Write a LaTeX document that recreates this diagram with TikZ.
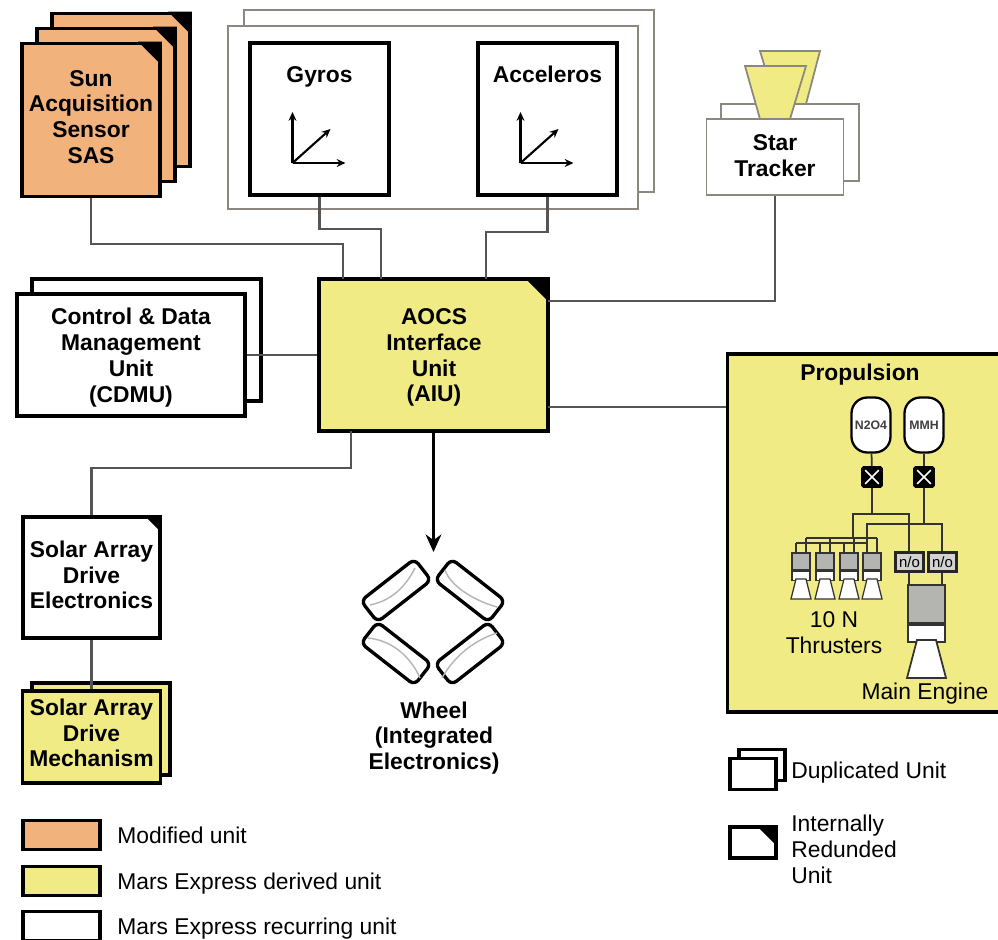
\documentclass[tikz,border=0pt]{standalone}
\usepackage{fontspec}
\setmainfont{Liberation Sans}
\usepackage{xcolor}
\usetikzlibrary{positioning, calc, arrows.meta, shapes}
\definecolor{sasorange}{HTML}{F2B27C}
\definecolor{mexyellow}{HTML}{F1EB85}
\definecolor{linegrey}{HTML}{555555}
\definecolor{framegrey}{HTML}{8C8880}
\definecolor{partgrey}{HTML}{B4B4B0}
\tikzset{
  unitbox/.style={draw=black, line width=2.2pt, fill=white, inner sep=0pt},
  thinbox/.style={unitbox, draw=framegrey, line width=1pt},
  boxtext/.style={inner sep=0pt, align=center, font=\bfseries\fontsize{13pt}{14.7pt}\selectfont},
  plainlabel/.style={inner sep=0pt, align=center, font=\fontsize{13pt}{14.7pt}\selectfont},
  legendlabel/.style={plainlabel, align=left, anchor=base west},
  wire/.style={draw=linegrey, line width=1.2pt},
  pipe/.style={draw=black!80, line width=1pt},
  axisarrow/.style={black, line width=1.2pt, -{Stealth[length=5pt,width=4.5pt]}},
  wheelbox/.style={draw=black, line width=1.9pt, fill=white, rounded corners=3.5pt,
    minimum width=1.36cm, minimum height=0.54cm, inner sep=0pt},
  wheelarc/.style={draw=partgrey, line width=0.8pt},
  tankbox/.style={draw=black, line width=1.3pt, fill=white, rounded corners=9pt, text=black!75,
    minimum width=0.78cm, minimum height=1.1cm, inner sep=0pt, font=\bfseries\fontsize{7pt}{8pt}\selectfont},
  valvebox/.style={draw=black, fill=black, rounded corners=1pt, minimum size=0.42cm, inner sep=0pt},
  nobox/.style={draw=black!85, line width=1.3pt, fill=partgrey!60, minimum width=0.56cm, minimum height=0.38cm,
    inner sep=0pt, font=\fontsize{8.5pt}{9pt}\selectfont},
  thrusterpart/.style={draw=black!80, line width=0.7pt, minimum width=0.36cm, inner sep=0pt},
  enginepart/.style={draw=black!80, line width=1pt, minimum width=0.74cm, inner sep=0pt},
}
\newcommand{\redcorner}[2][24]{\fill (#2.north east) -- ++(-#1,0) -- ++(#1,#1) -- cycle;}
\begin{document}
\begin{tikzpicture}[x=0.02cm,y=-0.02cm]
  \useasboundingbox (0,0) rectangle (998,940);

  % Sun sensor
  \foreach \dx/\nm in {30/sasc,15/sasb,0/sas} {
    \node[unitbox, fill=sasorange, minimum width=2.76cm, minimum height=3.06cm] (\nm) at (91+\dx,120-\dx) {};
    \redcorner{\nm}
  }
  \node[boxtext] (sastext) at (91,117) {Sun\\Acquisition\\Sensor\\SAS};

  % Gyros and accelerometers
  \node[thinbox, minimum width=8.2cm, minimum height=3.64cm] (imuback) at (449,101) {};
  \node[thinbox, minimum width=8.2cm, minimum height=3.66cm] (imufront) at (433,117.5) {};
  \foreach \nm/\cx/\txt in {gyros/319.5/Gyros, acceleros/547.5/Acceleros} {
    \node[unitbox, minimum width=2.78cm, minimum height=3.04cm] (\nm) at (\cx,119) {};
    \node[boxtext, anchor=base] (\nm text) at (\cx,82) {\txt};
    \coordinate (\nm o) at (\cx-27,163);
    \draw[axisarrow] (\nm o) -- ++(0,-51);
    \draw[axisarrow] (\nm o) -- ++(53,0);
    \draw[axisarrow] (\nm o) -- ++(38,-34);
  }

  % Star tracker
  \node[thinbox, minimum width=2.76cm, minimum height=1.54cm] (trackerback) at (790,142.5) {};
  \coordinate (conea) at (760,51);
  \coordinate (coneb) at (745,66);
  \fill[mexyellow, draw=framegrey, line width=1pt] (conea) -- ++(60,0) -- (806,104) -- (776,104) -- cycle;
  \fill[mexyellow, draw=framegrey, line width=1pt] (coneb) -- ++(61,0) -- (790,119) -- (760,119) -- cycle;
  \node[thinbox, minimum width=2.74cm, minimum height=1.52cm] (tracker) at (775,157) {};
  \node[boxtext] (trackertext) at (775,156) {Star\\Tracker};

  % CDMU
  \node[unitbox, minimum width=4.58cm, minimum height=2.44cm] (cdmuback) at (146.5,340) {};
  \node[unitbox, minimum width=4.56cm, minimum height=2.44cm] (cdmu) at (131,355) {};
  \node[boxtext] (cdmutext) at (131,357.5) {Control \& Data\\Management\\Unit\\(CDMU)};

  % AIU
  \node[unitbox, fill=mexyellow, minimum width=4.58cm, minimum height=3.04cm] (aiu) at (433.5,355) {};
  \redcorner[26]{aiu}
  \node[boxtext] (aiutext) at (434,357.5) {AOCS\\Interface\\Unit\\(AIU)};

  % Solar array
  \node[unitbox, minimum width=2.74cm, minimum height=2.42cm] (sade) at (91.5,577.5) {};
  \redcorner[18]{sade}
  \node[boxtext] (sadetext) at (91.5,575) {Solar Array\\Drive\\Electronics};
  \node[unitbox, fill=mexyellow, minimum width=2.76cm, minimum height=1.84cm] (sadmback) at (101,729) {};
  \node[unitbox, fill=mexyellow, minimum width=2.76cm, minimum height=1.84cm] (sadm) at (91.5,737) {};
  \node[boxtext] (sadmtext) at (91.5,733) {Solar Array\\Drive\\Mechanism};

  % Wheels
  \foreach \nm/\cx/\cy/\rot in {wa/396/590.5/38, wb/470/590.5/-38, wc/396/653.5/-38, wd/470/653.5/38} {
    \node[wheelbox, rotate=\rot] (\nm) at (\cx,\cy) {};
  }
  \draw[wheelarc] (370,605) .. controls (395,600) and (408,582) .. (415,568);
  \draw[wheelarc] (445,570) .. controls (450,585) and (472,600) .. (497,607);
  \draw[wheelarc] (368,638) .. controls (390,640) and (410,655) .. (420,678);
  \draw[wheelarc] (442,678) .. controls (455,655) and (475,640) .. (497,633);
  \node[boxtext] (wheeltext) at (434,738) {Wheel\\(Integrated\\Electronics)};

  % Propulsion
  \node[unitbox, fill=mexyellow, minimum width=5.5cm, minimum height=7.16cm] (prop) at (865,533) {};
  \node[boxtext] (proptext) at (860,375) {Propulsion};
  \node[tankbox] (tankn) at (871,425) {N2O4};
  \node[tankbox] (tankm) at (924,425) {MMH};
  \foreach \nm/\cx in {valven/872, valvem/924} {
    \node[valvebox] (\nm) at (\cx,477) {};
    \draw[white, line width=0.9pt] ($(\nm.north west)+(4,4)$) -- ($(\nm.south east)+(-4,-4)$);
    \draw[white, line width=0.9pt] ($(\nm.north east)+(-4,4)$) -- ($(\nm.south west)+(4,-4)$);
  }
  \coordinate (nsplit) at (872,514);
  \coordinate (msplit) at (924,524);
  \draw[pipe] (tankn) -- (valven);
  \draw[pipe] (tankm) -- (valvem);
  \draw[pipe] (valven) -- (nsplit);
  \draw[pipe] (valvem) -- (msplit);
  \draw[pipe] (853,538) -- (853,514) -- (909,514) -- (909,585);
  \draw[pipe] (867,543) -- (867,524) -- (942,524) -- (942,585);
  \draw[pipe] (806,538) -- (877,538);
  \draw[pipe] (796,543) -- (867,543);
  % Thrusters
  \foreach \i/\cx in {1/801,2/825,3/849,4/872} {
    \draw[pipe] (\cx-5,543) -- (\cx-5,553);
    \draw[pipe] (\cx+5,538) -- (\cx+5,553);
    \node[thrusterpart, fill=partgrey, minimum height=0.34cm] (tg\i) at (\cx,561.5) {};
    \node[thrusterpart, fill=white, minimum height=0.18cm, below=0pt of tg\i] (tw\i) {};
    \fill[white, draw=black!80, line width=0.7pt] (\cx-5,579) -- (\cx+5,579) -- (\cx+10,599) -- (\cx-10,599) -- cycle;
  }
  \node[plainlabel] (tenn) at (834,620) {10 N};
  \node[plainlabel] (thrusters) at (834,645) {Thrusters};
  \node[nobox] (noa) at (909.5,562) {n/o};
  \node[nobox] (nob) at (942.5,562) {n/o};
  % Main engine
  \node[enginepart, fill=partgrey, minimum height=0.76cm] (enggrey) at (926.5,604) {};
  \node[enginepart, fill=white, minimum height=0.34cm, below=0pt of enggrey] (engwhite) {};
  \fill[white, draw=black!80, line width=1pt] (917,640) -- (936,640) -- (946,678) -- (907,678) -- cycle;
  \node[plainlabel] (enginetext) at (925,694) {Main Engine};

  % Connectors
  \coordinate (aiusas) at (343,279);
  \coordinate (aiugyro) at (381,279);
  \coordinate (aiuacc) at (486,279);
  \coordinate (aiustar) at (548,301);
  \coordinate (aiuprop) at (548,407);
  \coordinate (aiusada) at (351,431);
  \coordinate (wheeltip) at (433.5,552);
  \draw[wire] (sas.south) -- (91,244) -| (aiusas);
  \draw[wire] (gyros.south) -- (319.5,229) -| (aiugyro);
  \draw[wire] (acceleros.south) -- (547.5,232) -| (aiuacc);
  \draw[wire] (tracker.south) |- (aiustar);
  \draw[wire] (cdmu.east) -- (aiu.west);
  \draw[wire] (aiuprop) -- (aiuprop -| prop.west);
  \draw[wire] (aiusada) |- (sade.north |- 0,468) -- (sade.north);
  \draw[wire] (sade.south) -- (sadm.north);
  \draw[black, line width=1.3pt, -{Stealth[length=10pt,width=9pt]}] (aiu.south) -- (wheeltip);

  % Legend
  \foreach \nm/\ly/\col/\txt in {lega/835/sasorange/Modified unit, legb/881/mexyellow/Mars Express derived unit, legc/926/white/Mars Express recurring unit} {
    \node[unitbox, fill=\col, minimum width=1.54cm, minimum height=0.58cm] (\nm) at (61.5,\ly) {};
    \node[legendlabel] (\nm text) at (117,\ly+8) {\txt};
  }
  \node[unitbox, minimum width=0.92cm, minimum height=0.62cm] (dupback) at (762,765) {};
  \node[unitbox, minimum width=0.92cm, minimum height=0.62cm] (dupfront) at (753,774) {};
  \node[legendlabel] (duptext) at (791,778) {Duplicated Unit};
  \node[unitbox, minimum width=0.92cm, minimum height=0.62cm] (redbox) at (753,842.5) {};
  \redcorner[22]{redbox}
  \node[plainlabel, align=left, anchor=west] (redtext) at (791,849) {Internally\\Redunded\\Unit};
\end{tikzpicture}
\end{document}
